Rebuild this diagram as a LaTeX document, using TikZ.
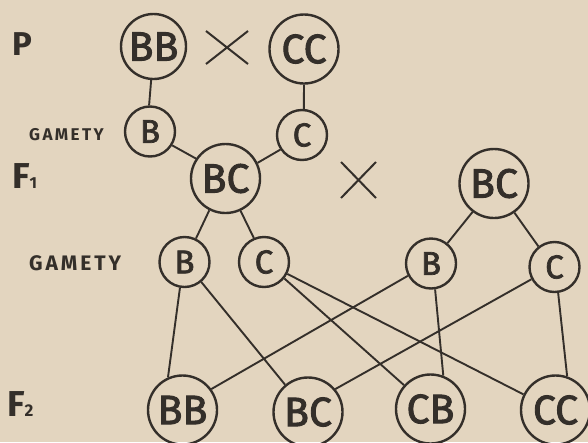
\documentclass[tikz,border=0pt]{standalone}
\usepackage{fontspec}
\setmainfont{Fira Sans}
\newfontfamily\gamfont[LetterSpace=14]{Fira Sans}
\newfontfamily\ringfont[FakeBold=2.2]{Fira Sans}
\usetikzlibrary{shapes.misc}
\definecolor{paper}{RGB}{227,213,191}
\definecolor{ink}{RGB}{52,47,42}
\begin{document}
\begin{tikzpicture}[x=1pt,y=-1pt,
  ring/.style={circle, draw=ink, line width=2.4pt, inner sep=0pt, text=ink},
  bigring/.style={ring, minimum size=69pt, font=\ringfont\fontsize{41}{41}\selectfont},
  smallring/.style={ring, minimum size=50pt, font=\ringfont\fontsize{33}{33}\selectfont},
  link/.style={draw=ink, line width=1.9pt},
  times/.style={cross out, draw=ink, line width=2pt, inner sep=0pt},
  lbl/.style={text=ink, inner sep=0pt}]
\useasboundingbox (0,0) rectangle (588,442);
\fill[paper] (0,0) rectangle (588,442);

% labels
\node[lbl, font=\fontsize{33}{33}\selectfont\bfseries, anchor=base west] (lp) at (12,55) {P};
\node[lbl, font=\fontsize{17}{17}\selectfont\gamfont\bfseries, anchor=base west] (lg1) at (29,140) {GAMETY};
\node[lbl, font=\fontsize{36}{36}\selectfont\bfseries, anchor=base west] (lf1) at (12,188) {F{\fontsize{16}{16}\selectfont 1}};
\node[lbl, font=\fontsize{21}{21}\selectfont\gamfont\bfseries, anchor=base west] (lg2) at (29,270) {GAMETY};
\node[lbl, font=\fontsize{36}{36}\selectfont\bfseries, anchor=base west] (lf2) at (7,416) {F{\fontsize{17}{17}\selectfont 2}};

% crosses
\node[times, minimum width=40pt, minimum height=31pt] (x1) at (227,47.5) {};
\node[times, minimum width=33pt, minimum height=34pt] (x2) at (358.5,180) {};

% P generation
\node[bigring, minimum size=65pt] (pBB) at (153.5,46.5) {BB};
\node[bigring] (pCC) at (304,49) {CC};
% gametes
\node[smallring] (gB) at (150,131.5) {B};
\node[smallring] (gC) at (302,135) {C};
% F1
\node[bigring] (f1) at (225.5,178.5) {BC};
\node[bigring] (f1r) at (494,183.5) {BC};
% F1 gametes
\node[smallring] (lB) at (184.5,262) {B};
\node[smallring] (lC) at (264,262) {C};
\node[smallring] (rB) at (431,263.5) {B};
\node[smallring] (rC) at (554.5,267) {C};
% F2
\node[bigring] (BB) at (182.5,410) {BB};
\node[bigring] (BC) at (308,412) {BC};
\node[bigring] (CB) at (430.5,409) {CB};
\node[bigring] (CC) at (555.5,410) {CC};

% connectors
\draw[link] (pBB.266) -- (gB.92);
\draw[link] (pCC.270) -- (gC.86);
\draw[link] (gB.328) -- (f1.146);
\draw[link] (gC.214) -- (f1.26);
\draw[link] (f1.243) -- (lB.64);
\draw[link] (f1.295) -- (lC.113);
\draw[link] (f1r.233) -- (rB.51);
\draw[link] (f1r.305) -- (rC.128);
\draw[link] (lB.260) -- (BB.114);
\draw[link] (lB.310) -- (BC.130);
\draw[link] (lC.321) -- (CB.138);
\draw[link] (lC.333) -- (CC.154);
\draw[link] (rB.208) -- (BB.36);
\draw[link] (rB.279) -- (CB.69);
\draw[link] (rC.208) -- (BC.40);
\draw[link] (rC.278) -- (CC.71);
\end{tikzpicture}
\end{document}
